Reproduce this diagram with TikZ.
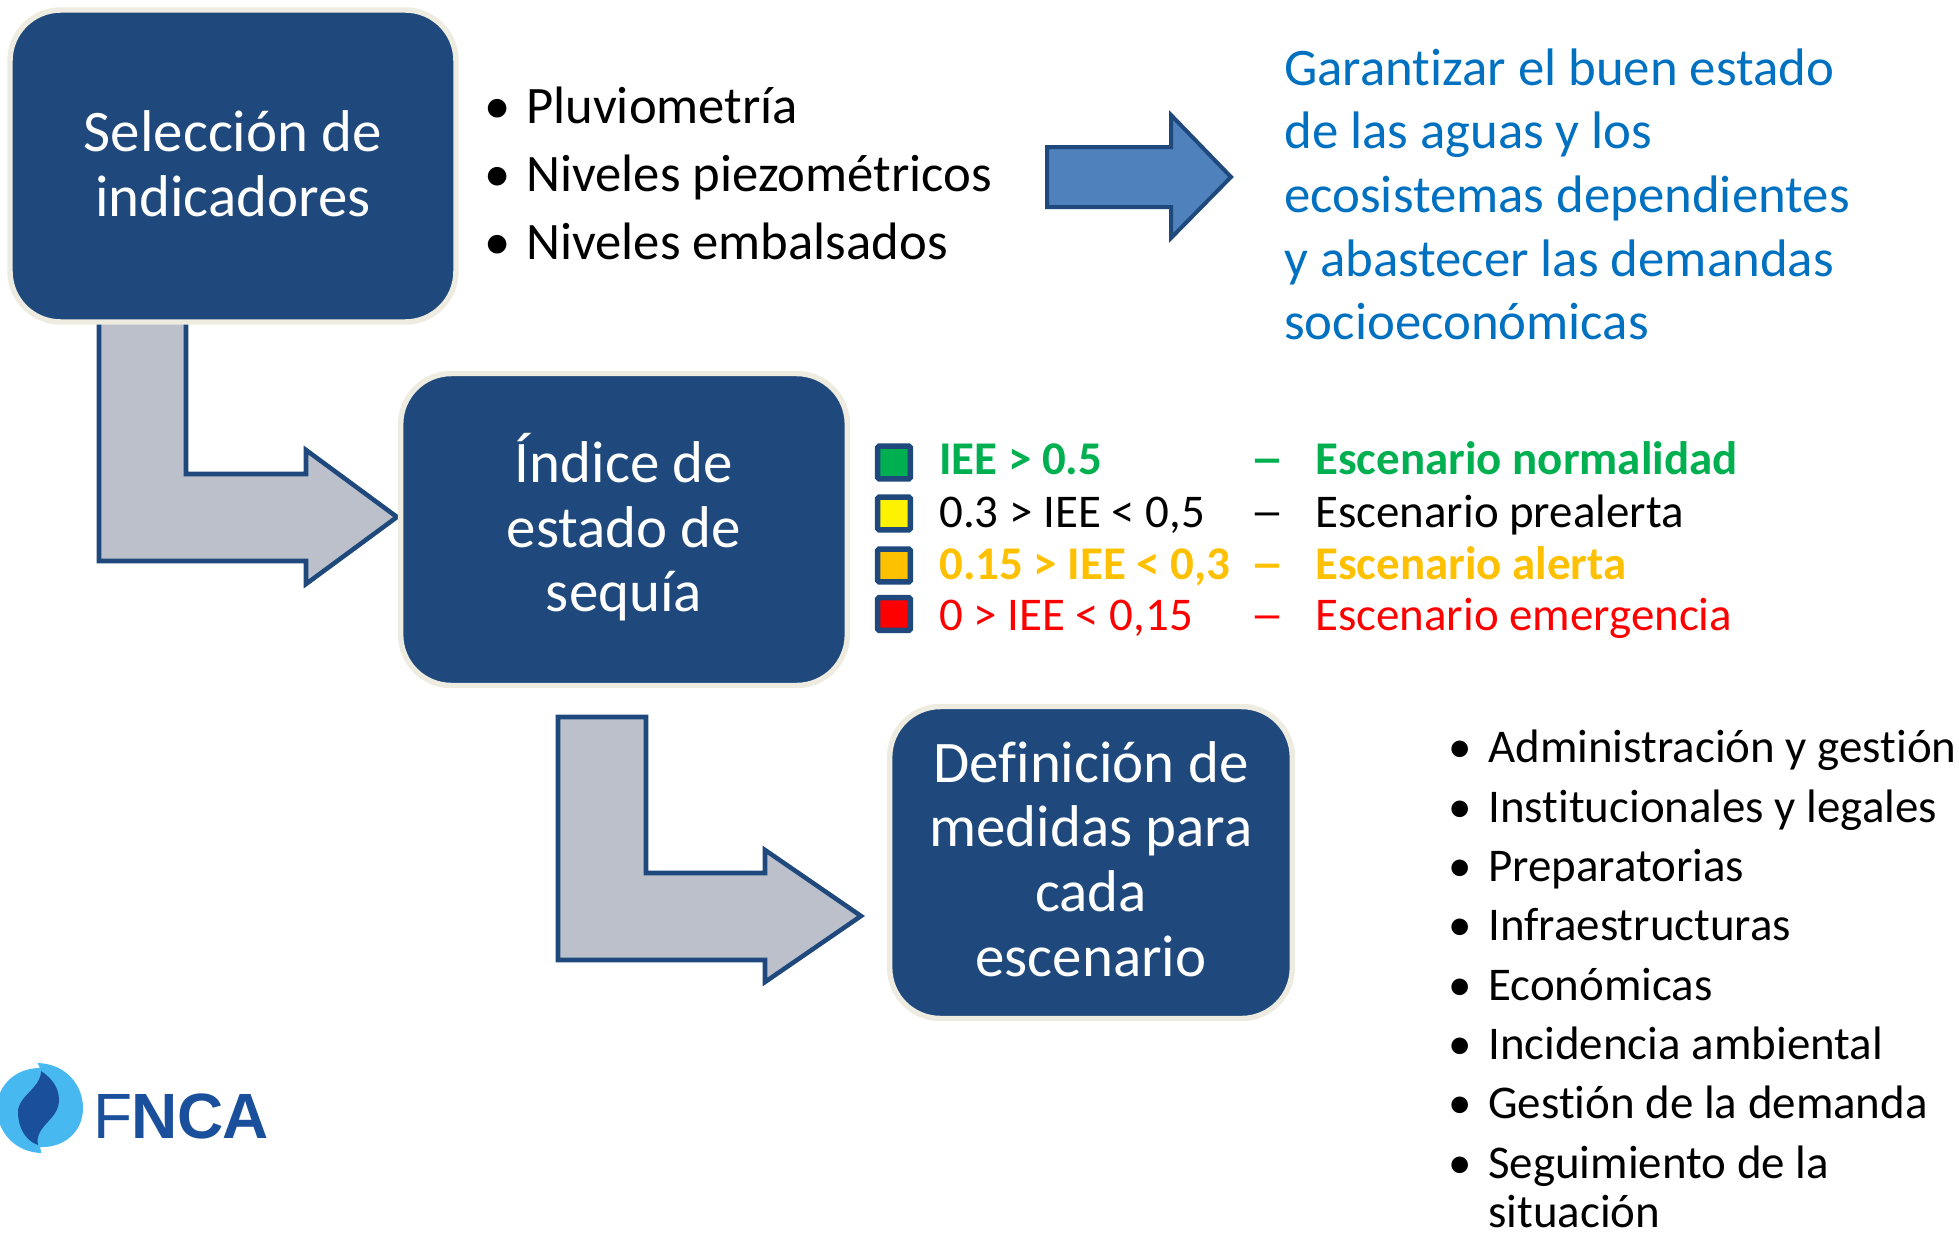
\documentclass[tikz,border=0pt]{standalone}
\usepackage{fontspec}
\setmainfont[Ligatures={NoCommon}]{Carlito}
\newfontfamily\logofont{Liberation Sans}
\definecolor{boxblue}{HTML}{1F497D}
\definecolor{boxedge}{HTML}{EEECE1}
\definecolor{arrowgrey}{HTML}{BBC0CB}
\definecolor{arrowblue}{HTML}{4F81BD}
\definecolor{goalblue}{HTML}{0070C0}
\definecolor{okgreen}{HTML}{00B050}
\definecolor{amber}{HTML}{FFC000}
\definecolor{logolight}{HTML}{47B8F0}
\definecolor{logodark}{HTML}{1A4F9C}
\newcommand{\bulleted}[1]{\llap{•\hspace{\dimexpr20.6pt-0.23em\relax}}#1}
\newcommand{\longdash}{\scalebox{1.45}[1]{–}}
\tikzset{
  stagebox/.style={draw=boxedge,fill=boxblue,line width=4.1pt,rounded corners=38pt,text=white,align=center,inner sep=0pt,font=\fontsize{44.2}{48.4}\selectfont},
  bendarrow/.style={draw=boxblue,fill=arrowgrey,line width=3.4pt,miter limit=10},
  flatarrow/.style={draw=boxblue,fill=arrowblue,line width=3pt},
  swatch/.style={draw=boxblue,line width=4.1pt,rounded corners=1pt,minimum size=24.5pt,inner sep=0pt},
  biglist/.style={anchor=base west,inner sep=0pt,font=\fontsize{39.5}{44}\selectfont},
  goal/.style={anchor=base west,inner sep=0pt,text=goalblue,font=\fontsize{39.6}{44}\selectfont},
  legend/.style={anchor=base west,inner sep=0pt,font=\fontsize{35.2}{39}\selectfont},
  legendbold/.style={legend,font=\fontsize{35.2}{39}\selectfont\bfseries},
  measure/.style={anchor=base west,inner sep=0pt,font=\fontsize{35.2}{39}\selectfont},
}
\begin{document}
\begin{tikzpicture}[x=0.75pt,y=-0.75pt]
\useasboundingbox (0,0) rectangle (1959,1232);
% block arrows
\draw[bendarrow] (99,320) -- (186,320) -- (186,474) -- (306,474) -- (306,450) -- (397,517) -- (306,584) -- (306,561) -- (99,561) -- cycle;
\draw[bendarrow] (558,717) -- (646,717) -- (646,873) -- (765,873) -- (765,850) -- (861,916) -- (765,982) -- (765,960) -- (558,960) -- cycle;
\draw[flatarrow] (1047,147) -- (1171,147) -- (1171,115) -- (1231,177) -- (1171,238) -- (1171,207) -- (1047,207) -- cycle;
% stage boxes
\node[stagebox,minimum width=334.5pt,minimum height=234pt] (sel) at (233,166) {Selección de\\indicadores\rule[-3.8pt]{0pt}{0pt}};
\node[stagebox,minimum width=335pt,minimum height=234pt] (ind) at (624,529.5) {Índice de\\estado de\\sequía\rule[-10.4pt]{0pt}{0pt}};
\node[stagebox,minimum width=302pt,minimum height=234pt] (med) at (1091,862.5) {Definición de\\medidas para\\cada\\escenario\rule[-5.6pt]{0pt}{0pt}};
% indicators
\node[biglist] (i1) at (526,123) {\bulleted{Pluviometría}};
\node[biglist] (i2) at (526,191) {\bulleted{Niveles piezométricos}};
\node[biglist] (i3) at (526,259) {\bulleted{Niveles embalsados}};
% goal
\node[goal] (g1) at (1284,85) {Garantizar el buen estado};
\node[goal] (g2) at (1284,148) {de las aguas y los};
\node[goal] (g3) at (1284,212) {ecosistemas dependientes};
\node[goal] (g4) at (1284,276) {y abastecer las demandas};
\node[goal] (g5) at (1284,339) {socioeconómicas};
% legend
\node[swatch,fill=okgreen] (s1) at (894,462.5) {};
\node[swatch,fill=yellow] (s2) at (894,513.5) {};
\node[swatch,fill=amber] (s3) at (894,565.5) {};
\node[swatch,fill=red] (s4) at (894,614) {};
\node[legendbold,text=okgreen] (a1) at (939,474) {IEE > 0.5};
\node[legendbold,text=okgreen] (b1) at (1250,474) {\longdash};
\node[legendbold,text=okgreen] (c1) at (1315,474) {Escenario normalidad};
\node[legend] (a2) at (939,527) {0.3 > IEE < 0,5};
\node[legend] (b2) at (1250,527) {\longdash};
\node[legend] (c2) at (1315,527) {Escenario prealerta};
\node[legendbold,text=amber] (a3) at (939,579) {0.15 > IEE < 0,3};
\node[legendbold,text=amber] (b3) at (1250,579) {\longdash};
\node[legendbold,text=amber] (c3) at (1315,579) {Escenario alerta};
\node[legend,text=red] (a4) at (939,630) {0 > IEE < 0,15};
\node[legend,text=red] (b4) at (1250,630) {\longdash};
\node[legend,text=red] (c4) at (1315,630) {Escenario emergencia};
% measures
\node[measure] (m1) at (1488,762) {\bulleted{Administración y gestión}};
\node[measure] (m2) at (1488,822) {\bulleted{Institucionales y legales}};
\node[measure] (m3) at (1488,881) {\bulleted{Preparatorias}};
\node[measure] (m4) at (1488,940) {\bulleted{Infraestructuras}};
\node[measure] (m5) at (1488,1000) {\bulleted{Económicas}};
\node[measure] (m6) at (1488,1059) {\bulleted{Incidencia ambiental}};
\node[measure] (m7) at (1488,1118) {\bulleted{Gestión de la demanda}};
\node[measure] (m8) at (1488,1178) {\bulleted{Seguimiento de la}};
\node[measure] (m9) at (1488,1227) {situación};
% logo
\fill[logolight] (38,1063) .. controls (66,1064) and (83,1085) .. (83,1108) .. controls (83,1132) and (64,1148) .. (40,1147) .. controls (41,1150) and (41,1152) .. (41,1153) .. controls (15,1152) and (-3,1132) .. (-3,1108) .. controls (-3,1086) and (15,1068) .. (40,1068) .. controls (39,1066) and (38,1065) .. (38,1063) -- cycle;
\fill[logodark] (41,1071) .. controls (52,1078) and (59,1088) .. (59,1100) .. controls (59,1120) and (34,1126) .. (38,1145) .. controls (26,1141) and (18,1128) .. (18,1112) .. controls (18,1096) and (41,1088) .. (41,1071) -- cycle;
\node[anchor=base west,inner sep=0pt,text=logodark,font=\fontsize{48}{50}\logofont] (logo) at (93,1138) {F\kern-1pt\textbf{N\kern0pt C\kern-1pt A}};
\end{tikzpicture}
\end{document}
